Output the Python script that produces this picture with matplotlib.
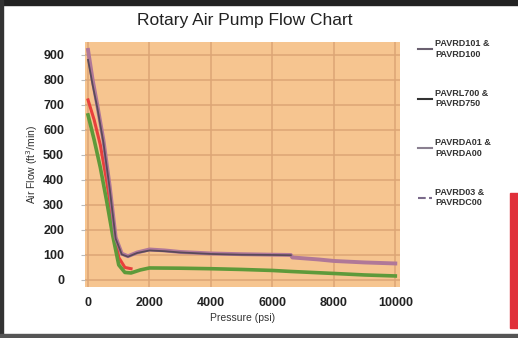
import matplotlib
matplotlib.use("Agg")
import matplotlib.pyplot as plt
from matplotlib.patches import Rectangle
from matplotlib.lines import Line2D

plt.rcParams['font.family'] = ['Liberation Sans', 'DejaVu Sans']

title = "Rotary Air Pump Flow Chart"
x_label = "Pressure (psi)"
y_label = "Air Flow (ft$^3$/min)"
x_ticks = [0, 2000, 4000, 6000, 8000, 10000]
y_ticks = [0, 100, 200, 300, 400, 500, 600, 700, 800, 900]

labels = ["PAVRD101 &\nPAVRD100", "PAVRL700 &\nPAVRD750",
          "PAVRDA01 &\nPAVRDA00", "PAVRD03 &\nPAVRDC00"]

purple_x = [0, 150, 300, 500, 700, 900, 1100, 1300, 1600, 2000, 2500, 3000, 4000, 5000, 6000, 6600, 6650, 7500, 8000, 9000, 10000]
purple_y = [920, 800, 700, 560, 380, 170, 105, 95, 110, 122, 118, 112, 106, 103, 101, 100, 90, 82, 76, 70, 66]

dark_x = [0, 150, 300, 500, 700, 900, 1100, 1300, 1600, 2000, 2500, 3000, 4000, 5000, 6000, 6600]
dark_y = [880, 780, 690, 550, 370, 165, 102, 93, 108, 118, 115, 110, 104, 101, 100, 99]

red_x = [0, 200, 400, 600, 800, 1000, 1200, 1400]
red_y = [720, 640, 540, 400, 240, 90, 50, 45]

green_x = [0, 200, 400, 600, 800, 1000, 1200, 1400, 1700, 2000, 3000, 4000, 5000, 6000, 6600, 8000, 9000, 10000]
green_y = [660, 560, 450, 320, 180, 60, 30, 28, 40, 48, 47, 45, 42, 38, 34, 26, 20, 16]

fig = plt.figure(figsize=(5.18, 3.38), dpi=100)
fig.patch.set_facecolor('white')
ax = fig.add_axes([0.164, 0.151, 0.608, 0.725])
ax.set_facecolor('#F6C590')

ax.plot(red_x, red_y, color='#E8403C', lw=2.2, zorder=3)
ax.plot(green_x, green_y, color='#5E9A3A', lw=2.6, zorder=4)
ax.plot(purple_x, purple_y, color='#B07898', lw=2.8, zorder=5)
ax.plot(dark_x, dark_y, color='#5A4A5A', lw=1.3, zorder=6)

ax.set_xlim(-100, 10150)
ax.set_ylim(-28, 952)
ax.set_xticks(x_ticks)
ax.set_yticks(y_ticks)
ax.grid(True, color='#DCA575', lw=1.1)
ax.set_axisbelow(True)
for s in ax.spines.values():
    s.set_visible(False)
ax.tick_params(axis='y', length=3, color='#BBBBBB', pad=12, labelsize=9)
ax.tick_params(axis='x', length=0, pad=7, labelsize=9)
for t in ax.get_xticklabels() + ax.get_yticklabels():
    t.set_fontweight('bold')
    t.set_color('#222222')

ax.set_xlabel(x_label, fontsize=7.5, color='#333333', labelpad=3)
ax.set_ylabel(y_label, fontsize=7.5, color='#333333', labelpad=2)
fig.text(0.473, 0.94, title, ha='center', va='center', fontsize=12.5, color='#222222')

handles = [Line2D([], [], color='#6A6070', lw=1.5),
           Line2D([], [], color='#333333', lw=1.5),
           Line2D([], [], color='#8A8090', lw=1.5),
           Line2D([], [], color='#7A6A8A', lw=1.5, ls='--')]
leg = fig.legend(handles, labels, loc='upper left', bbox_to_anchor=(0.8, 0.895),
                 frameon=False, fontsize=6.5, handlelength=1.5, handletextpad=0.4,
                 labelspacing=3.35, borderaxespad=0)
for t in leg.get_texts():
    t.set_fontweight('bold')
    t.set_color('#333333')

# frame borders
fig.add_artist(Rectangle((0, 0.985), 1, 0.015, transform=fig.transFigure, color='#222222'))
fig.add_artist(Rectangle((0, 0), 0.006, 1, transform=fig.transFigure, color='#333333'))
fig.add_artist(Rectangle((0, 0), 1, 0.012, transform=fig.transFigure, color='#555555'))
fig.add_artist(Rectangle((0.985, 0.03), 0.015, 0.40, transform=fig.transFigure, color='#E0303A'))

fig.savefig('out.png', dpi=100)
